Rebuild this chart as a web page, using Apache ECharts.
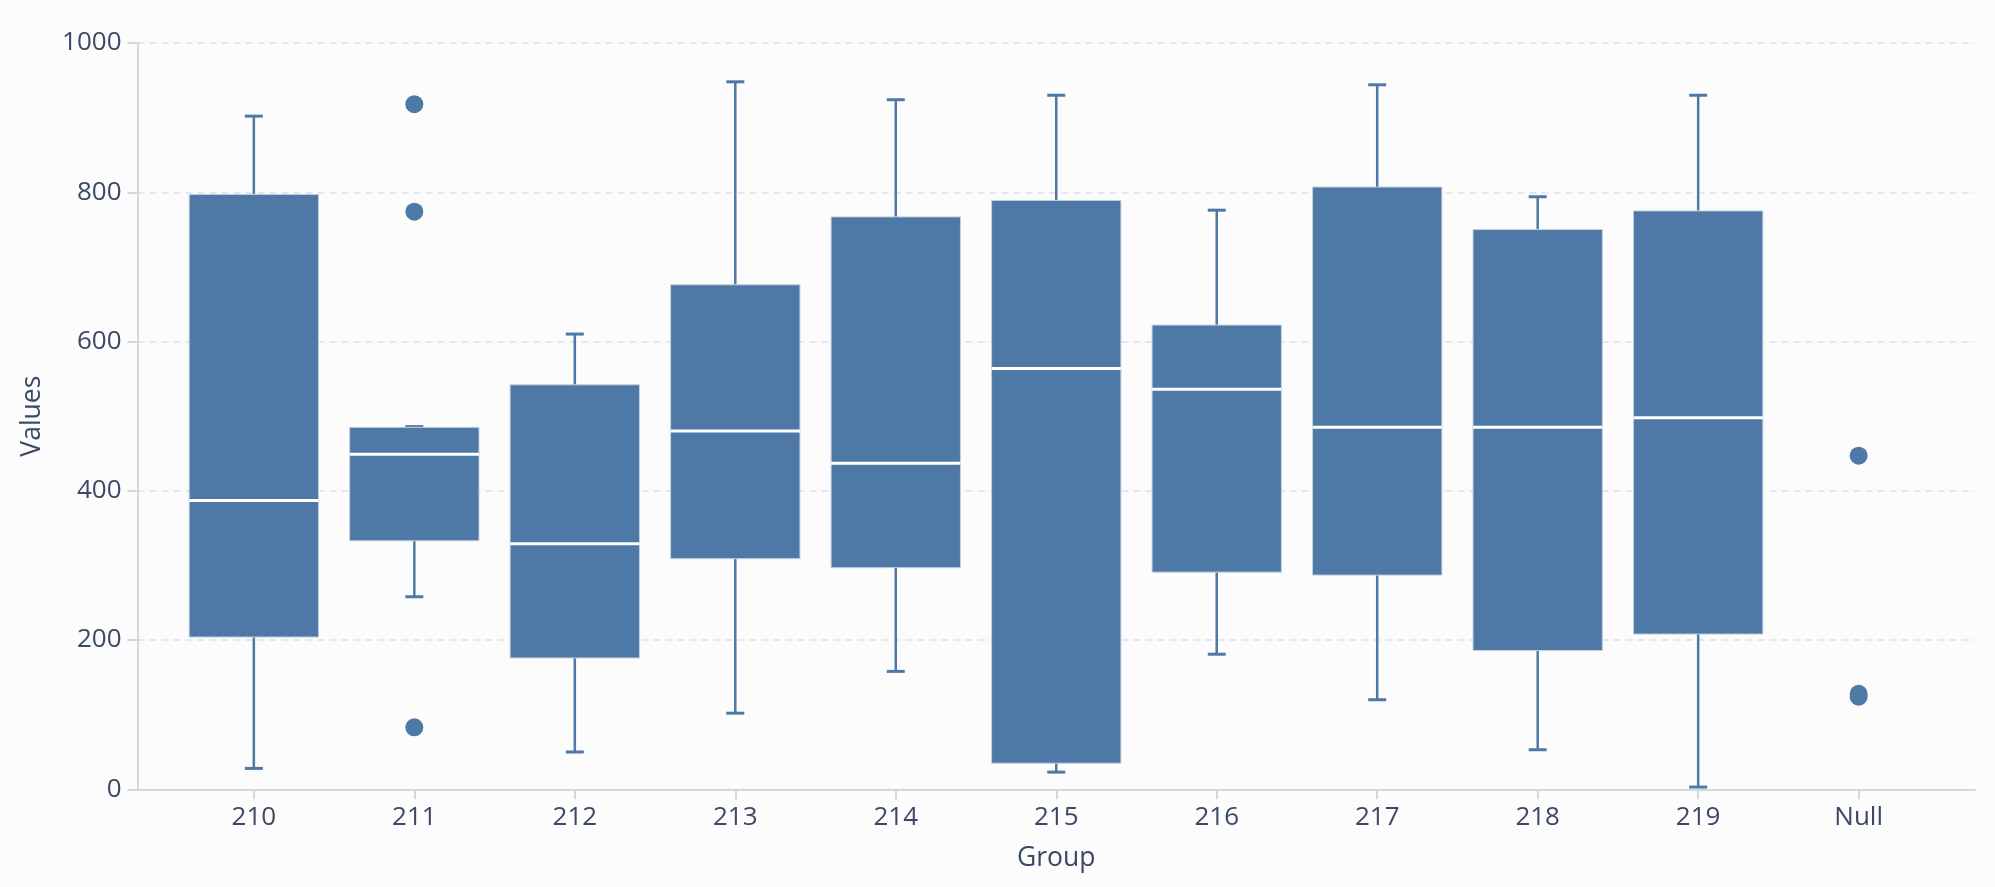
<!DOCTYPE html>
<html>
<head>
<meta charset="utf-8">
<script src="https://cdn.jsdelivr.net/npm/echarts@6/dist/echarts.min.js"></script>
<style>
  html, body { margin: 0; padding: 0; background: #fcfcfd; }
  #chart { width: 1995px; height: 887px; }
</style>
</head>
<body>
<div id="chart"></div>
<script>
// ---- data ----
const categories = ['210', '211', '212', '213', '214', '215', '216', '217', '218', '219', 'Null'];
const mins    = [28, 258, 50, 102, 158, 23, 181, 120, 53, 3, null];
const q1s     = [204, 333, 176, 309, 297, 35, 291, 287, 186, 208, null];
const medians = [387, 449, 329, 480, 437, 564, 536, 485, 485, 498, null];
const q3s     = [797, 485, 542, 676, 767, 789, 622, 807, 750, 775, null];
const maxs    = [902, 486, 610, 948, 924, 930, 776, 944, 794, 930, null];
const outlierGroups = [1, 1, 1, 10, 10, 10];
const outlierValues = [918, 774, 83, 447, 128, 124];
const yTicks = [0, 200, 400, 600, 800, 1000];

// ---- styles ----
const BOX = '#4e79a7';
const TEXT = '#3b4964';
const AXIS = '#d3d7df';
const FONT = 'Open Sans';

const boxData = [];
categories.forEach((c, i) => {
  if (mins[i] !== null) boxData.push([i, mins[i], q1s[i], medians[i], q3s[i], maxs[i]]);
});
const outlierData = outlierGroups.map((g, i) => [g, outlierValues[i]]);
const catIdx = categories.map((c, i) => i);

const chart = echarts.init(document.getElementById('chart'));
chart.setOption({
  backgroundColor: '#fcfcfd',
  animation: false,
  grid: { left: 137.5, right: 20, top: 43, bottom: 97.7 },
  xAxis: {
    type: 'value',
    min: -0.725,
    max: 10.725,
    name: 'Group',
    nameLocation: 'middle',
    nameGap: 56,
    nameTextStyle: { fontFamily: FONT, fontSize: 26.5, color: TEXT },
    axisLine: { show: true, onZero: false, lineStyle: { color: AXIS, width: 2 } },
    axisTick: { show: true, length: 10, customValues: catIdx, lineStyle: { color: AXIS, width: 2 } },
    axisLabel: {
      customValues: catIdx,
      formatter: v => categories[Math.round(v)],
      fontFamily: FONT, fontSize: 26, color: TEXT, margin: 15
    },
    splitLine: { show: false }
  },
  yAxis: {
    type: 'value',
    min: 0,
    max: 1000,
    interval: 200,
    name: 'Values',
    nameLocation: 'middle',
    nameGap: 92,
    nameTextStyle: { fontFamily: FONT, fontSize: 26.5, color: TEXT },
    axisLine: { show: true, onZero: false, lineStyle: { color: AXIS, width: 2 } },
    axisTick: { show: true, length: 10, lineStyle: { color: AXIS, width: 2 } },
    axisLabel: { fontFamily: FONT, fontSize: 26, color: TEXT, margin: 16, formatter: v => String(v) },
    splitLine: { show: true, lineStyle: { color: '#dde0e6', width: 1.5, type: [7, 5] } }
  },
  series: [
    {
      type: 'custom',
      data: boxData,
      encode: { x: 0, y: [1, 2, 3, 4, 5] },
      renderItem: function (params, api) {
        const x = api.value(0);
        const pMin = api.coord([x, api.value(1)]);
        const pQ1 = api.coord([x, api.value(2)]);
        const pMed = api.coord([x, api.value(3)]);
        const pQ3 = api.coord([x, api.value(4)]);
        const pMax = api.coord([x, api.value(5)]);
        const band = api.size([1, 0])[0];
        const w = band * 0.806;
        const cap = 18;
        const cx = pMed[0];
        const lineStyle = { stroke: BOX, lineWidth: 2.5 };
        const capStyle = { stroke: BOX, lineWidth: 3 };
        return {
          type: 'group',
          children: [
            { type: 'line', shape: { x1: cx, y1: pQ3[1], x2: cx, y2: pMax[1] }, style: lineStyle },
            { type: 'line', shape: { x1: cx, y1: pQ1[1], x2: cx, y2: pMin[1] }, style: lineStyle },
            { type: 'line', shape: { x1: cx - cap / 2, y1: pMax[1], x2: cx + cap / 2, y2: pMax[1] }, style: capStyle },
            { type: 'line', shape: { x1: cx - cap / 2, y1: pMin[1], x2: cx + cap / 2, y2: pMin[1] }, style: capStyle },
            { type: 'rect', shape: { x: cx - w / 2, y: pQ3[1], width: w, height: pQ1[1] - pQ3[1] },
              style: { fill: BOX, stroke: '#c3cfdd', lineWidth: 1 } },
            { type: 'line', shape: { x1: cx - w / 2, y1: pMed[1], x2: cx + w / 2, y2: pMed[1] },
              style: { stroke: '#ffffff', lineWidth: 3 } }
          ]
        };
      }
    },
    {
      type: 'scatter',
      data: outlierData,
      symbol: 'circle',
      symbolSize: 18,
      itemStyle: { color: BOX, opacity: 1 }
    }
  ]
});
</script>
</body>
</html>
